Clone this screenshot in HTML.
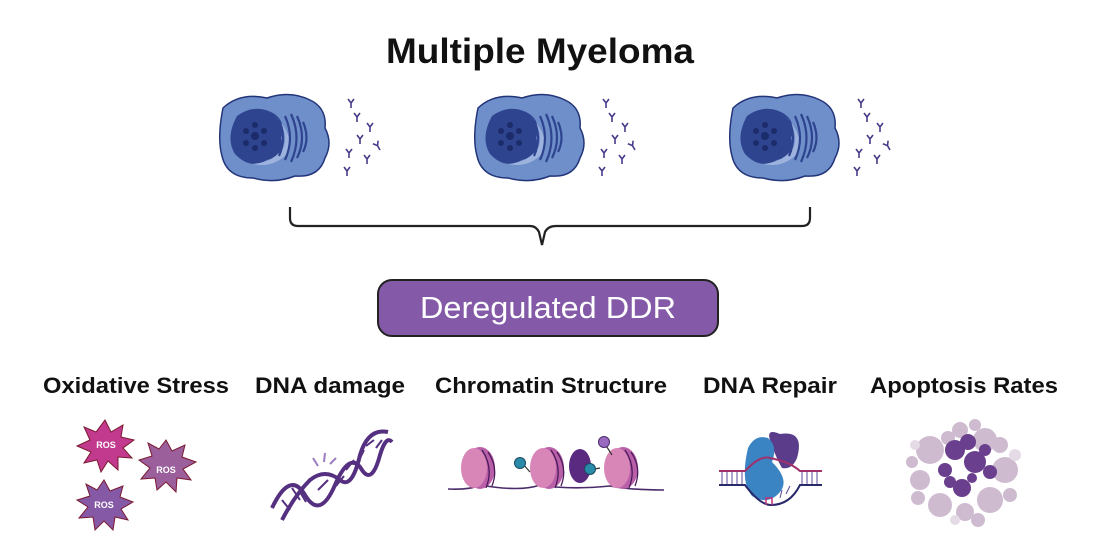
<!DOCTYPE html>
<html><head><meta charset="utf-8"><style>html,body{margin:0;padding:0;background:#fff}svg{display:block}</style></head><body>
<svg width="1100" height="560" viewBox="0 0 1100 560" xmlns="http://www.w3.org/2000/svg" font-family="Liberation Sans, sans-serif">
<defs>
<g id="ab" stroke="#4a3a8a" stroke-width="1.6" fill="none"><path d="M0 0 L0 -5 M0 -5 L-3 -9 M0 -5 L3 -9"/></g>
<g id="cell">
<path d="M-52 -30 Q-35 -46 -8 -40 Q15 -48 35 -38 Q52 -30 50 -10 Q58 5 50 20 Q44 40 20 38 Q0 46 -22 40 Q-48 40 -53 18 Q-58 0 -52 -30Z" fill="#6f8fca" stroke="#23357a" stroke-width="1.5"/>
<path d="M-38 -22 Q-22 -34 -4 -26 Q12 -18 6 0 Q12 18 -8 22 Q-25 32 -40 16 Q-50 0 -38 -22Z" fill="#2e448f"/>
<path d="M-4 -26 Q14 -10 9 8 Q0 24 -22 26 Q-4 30 10 18 Q24 0 -4 -26Z" fill="#9db3de"/>
<circle cx="-20" cy="-2" r="4" fill="#1c2b6a"/>
<g fill="#1c2b6a"><circle cx="-20" cy="-13" r="3"/><circle cx="-11" cy="-7" r="3"/><circle cx="-11" cy="5" r="3"/><circle cx="-20" cy="10" r="3"/><circle cx="-29" cy="5" r="3"/><circle cx="-29" cy="-7" r="3"/></g>
<g stroke="#2e448f" stroke-width="2.2" fill="none"><path d="M4 -18 Q12 0 4 18"/><path d="M10 -22 Q20 0 10 22"/><path d="M16 -24 Q27 0 16 24"/><path d="M22 -22 Q32 0 22 20"/><path d="M28 -16 Q35 0 28 14"/></g>
<g transform="translate(76,-30)"><use href="#ab"/></g>
<g transform="translate(82,-16)"><use href="#ab"/></g>
<g transform="translate(95,-6)"><use href="#ab"/></g>
<g transform="translate(85,6)"><use href="#ab"/></g>
<g transform="translate(105,12) rotate(-30)"><use href="#ab"/></g>
<g transform="translate(74,20)"><use href="#ab"/></g>
<g transform="translate(92,26)"><use href="#ab"/></g>
<g transform="translate(72,38)"><use href="#ab"/></g>
</g>
</defs>
<text x="540" y="63" text-anchor="middle" font-size="35" font-weight="bold" fill="#111" textLength="308" lengthAdjust="spacingAndGlyphs">Multiple Myeloma</text>
<use href="#cell" x="275" y="138"/>
<use href="#cell" x="530" y="138"/>
<use href="#cell" x="785" y="138"/>
<path d="M290 207 V218 Q290 226 298 226 H530 Q536 226 539 232 L542 245 L545 232 Q548 226 556 226 H802 Q810 226 810 218 V207" fill="none" stroke="#222" stroke-width="2.2"/>
<rect x="378" y="280" width="340" height="56" rx="14" fill="#845aa8" stroke="#222" stroke-width="2"/>
<text x="548" y="318" text-anchor="middle" font-size="31" fill="#fff" textLength="256" lengthAdjust="spacingAndGlyphs">Deregulated DDR</text>
<g font-size="22" font-weight="bold" fill="#111">
<text x="43" y="393" textLength="186" lengthAdjust="spacingAndGlyphs">Oxidative Stress</text>
<text x="255" y="393" textLength="150" lengthAdjust="spacingAndGlyphs">DNA damage</text>
<text x="435" y="393" textLength="232" lengthAdjust="spacingAndGlyphs">Chromatin Structure</text>
<text x="703" y="393" textLength="134" lengthAdjust="spacingAndGlyphs">DNA Repair</text>
<text x="870" y="393" textLength="188" lengthAdjust="spacingAndGlyphs">Apoptosis Rates</text>
</g>
<!-- ROS -->
<g stroke="#7a1a30" stroke-width="1">
<polygon points="105,420 111,432 123,425 121,437 134,440 123,448 132,458 118,457 118,470 108,461 101,472 97,460 84,463 91,452 77,446 90,440 84,427 96,432" fill="#c23a8e"/>
<polygon points="166,440 172,451 185,445 182,457 196,462 183,469 191,480 177,478 176,492 166,482 157,490 155,478 141,479 150,468 139,460 152,456 148,443 159,449" fill="#9b5f9c"/>
<polygon points="104,480 110,491 123,486 120,497 133,502 121,509 128,520 115,517 113,530 104,521 95,530 93,517 79,518 88,507 77,500 90,496 86,484 97,490" fill="#8559a6"/>
</g>
<g font-size="9" font-weight="bold" fill="#fff" text-anchor="middle"><text x="106" y="448">ROS</text><text x="166" y="473">ROS</text><text x="104" y="508">ROS</text></g>
<!-- DNA -->
<g fill="none" stroke="#553080" stroke-width="4"><path d="M272 508 Q290 470 305 495 Q320 520 335 485 Q350 450 362 470 Q372 485 380 455 Q386 435 392 442"/><path d="M282 520 Q295 495 310 480 Q325 468 340 480 Q352 490 360 455 Q368 428 388 432"/></g>
<g stroke="#553080" stroke-width="2"><path d="M282 500 L290 510 M292 488 L300 500 M300 492 L306 502 M318 490 L328 480 M336 486 L344 476 M346 470 L354 460 M358 462 L364 450 M366 446 L374 440 M376 448 L382 440"/></g>
<g stroke="#9a7cc0" stroke-width="2"><path d="M318 466 L313 458 M324 462 L325 453 M330 464 L336 458"/></g>
<!-- chromatin -->
<path d="M448 489 Q470 490 480 485 Q520 492 540 485 Q570 490 610 486 Q630 490 664 490" fill="none" stroke="#4a2a6a" stroke-width="1.6"/>
<g fill="#b95fa8"><ellipse cx="480" cy="468" rx="15" ry="21"/><ellipse cx="549" cy="468" rx="15" ry="21"/><ellipse cx="623" cy="468" rx="15" ry="21"/></g>
<g fill="#d886b8"><ellipse cx="474" cy="468" rx="13" ry="20"/><ellipse cx="543" cy="468" rx="13" ry="20"/><ellipse cx="617" cy="468" rx="13" ry="20"/></g>
<g stroke="#4a1a5a" stroke-width="1.3" fill="none"><path d="M482 450 Q494 468 486 488 M488 452 Q499 468 492 486 M551 450 Q563 468 555 488 M557 452 Q568 468 561 486 M625 450 Q637 468 629 488 M631 452 Q642 468 635 486"/></g>
<ellipse cx="580" cy="466" rx="11" ry="17" fill="#5a2a80"/>
<path d="M522 463 L530 472 M590 470 L600 468 M605 444 L612 455" stroke="#333" stroke-width="1.2"/>
<circle cx="520" cy="463" r="5.5" fill="#2a8aaa" stroke="#1a4a60"/>
<circle cx="590" cy="469" r="5.5" fill="#2a8aaa" stroke="#1a4a60"/>
<circle cx="604" cy="442" r="5.5" fill="#9a6ac0" stroke="#4a2a6a"/>
<!-- DNA repair -->
<path d="M770 440 Q766 428 780 434 Q805 430 797 458 Q792 470 782 468 Q776 458 770 440 Z" fill="#5a3c8a"/>
<path d="M748 448 Q755 434 768 438 Q778 446 772 462 Q790 480 780 492 Q768 506 752 496 Q740 482 748 448Z" fill="#3a84c4"/>
<path d="M719 471 H745 Q760 455 770 458 Q790 462 800 471 H822" fill="none" stroke="#a0306a" stroke-width="2"/>
<path d="M719 485 H745 Q760 505 771 505 Q790 505 800 485 H822" fill="none" stroke="#2a2a6a" stroke-width="2"/>
<g stroke="#5a4a9a" stroke-width="1"><path d="M722 472 V484 M727 472 V484 M732 472 V484 M737 472 V484 M742 472 V484 M802 472 V484 M807 472 V484 M812 472 V484 M817 472 V484 M782 490 L780 498 M790 486 L786 494"/></g>
<path d="M766 505 V498 H772 V505" stroke="#c0307a" stroke-width="1.5" fill="none"/>
<!-- apoptosis -->
<g fill="#c6b0c8" opacity="0.85">
<circle cx="930" cy="450" r="14"/><circle cx="985" cy="440" r="12"/><circle cx="1005" cy="470" r="13"/><circle cx="920" cy="480" r="10"/><circle cx="940" cy="505" r="12"/><circle cx="990" cy="500" r="13"/><circle cx="965" cy="512" r="9"/><circle cx="960" cy="430" r="8"/><circle cx="1010" cy="495" r="7"/><circle cx="912" cy="462" r="6"/><circle cx="975" cy="425" r="6"/>
<circle cx="1000" cy="445" r="8"/><circle cx="948" cy="438" r="7"/><circle cx="918" cy="498" r="7"/><circle cx="978" cy="520" r="7"/>
</g>
<g fill="#e4dbe6"><circle cx="955" cy="520" r="5"/><circle cx="1015" cy="455" r="6"/><circle cx="915" cy="445" r="5"/></g>
<g fill="#6a3f8e"><circle cx="955" cy="450" r="10"/><circle cx="975" cy="462" r="11"/><circle cx="945" cy="470" r="7"/><circle cx="962" cy="488" r="9"/><circle cx="985" cy="450" r="6"/><circle cx="990" cy="472" r="7"/><circle cx="972" cy="478" r="5"/><circle cx="968" cy="442" r="8"/><circle cx="950" cy="482" r="6"/></g>
</svg>
</body></html>
